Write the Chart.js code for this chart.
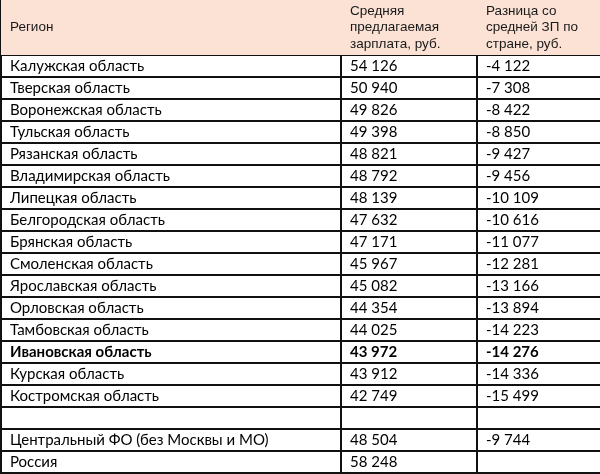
<!DOCTYPE html>
<html>
<head>
<meta charset="utf-8">
<script src="https://cdn.jsdelivr.net/npm/chart.js@4"></script>
<style>
  html, body { margin: 0; padding: 0; background: #fff; }
  #wrap { width: 600px; height: 474px; }
</style>
</head>
<body>
<div id="wrap"><canvas id="table" width="600" height="474"></canvas></div>
<script>
const headers = [
  ["Регион"],
  ["Средняя", "предлагаемая", "зарплата, руб."],
  ["Разница со", "средней ЗП по", "стране, руб."],
];

const regions = [
  "Калужская область", "Тверская область", "Воронежская область", "Тульская область",
  "Рязанская область", "Владимирская область", "Липецкая область", "Белгородская область",
  "Брянская область", "Смоленская область", "Ярославская область", "Орловская область",
  "Тамбовская область", "Ивановская область", "Курская область", "Костромская область",
  "", "Центральный ФО (без Москвы и МО)", "Россия",
];
const salaries = [
  "54 126", "50 940", "49 826", "49 398", "48 821", "48 792", "48 139", "47 632",
  "47 171", "45 967", "45 082", "44 354", "44 025", "43 972", "43 912", "42 749",
  "", "48 504", "58 248",
];
const diffs = [
  "-4 122", "-7 308", "-8 422", "-8 850", "-9 427", "-9 456", "-10 109", "-10 616",
  "-11 077", "-12 281", "-13 166", "-13 894", "-14 223", "-14 276", "-14 336", "-15 499",
  "", "-9 744", "",
];
const boldRow = "Ивановская область";

// column edges in x-scale units, header spans 2.5 row units
const colEdges = [1, 341, 477, 601];
const headerRows = 2.5;
const textPad = 9;

const columns = [regions, salaries, diffs];

const tablePlugin = {
  id: "tableCells",
  beforeDatasetsDraw(chart) {
    const { ctx, scales: { x, y } } = chart;
    // header fill
    ctx.save();
    ctx.fillStyle = "#fbe2d5";
    const top = y.getPixelForValue(-headerRows);
    const bot = y.getPixelForValue(0);
    const left = x.getPixelForValue(colEdges[0]);
    ctx.fillRect(left, top, x.getPixelForValue(colEdges[3]) - left, bot - top);
    ctx.restore();
  },
  afterDraw(chart) {
    const { ctx, scales: { x, y } } = chart;
    ctx.save();
    ctx.textBaseline = "middle";
    // header text
    ctx.fillStyle = "#1a1a1a";
    ctx.font = "13.5px 'Liberation Sans', Arial, sans-serif";
    headers.forEach((lines, c) => {
      const px = x.getPixelForValue(colEdges[c] + textPad);
      const mid = y.getPixelForValue(-headerRows / 2);
      const lh = 16.5;
      lines.forEach((line, k) => {
        ctx.fillText(line, px, mid + (k - (lines.length - 1) / 2) * lh);
      });
    });
    // body cells
    ctx.fillStyle = "#000";
    regions.forEach((name, i) => {
      const bold = name === boldRow;
      ctx.font = (bold ? "bold " : "") + "15px Lato, 'Noto Sans', sans-serif";
      columns.forEach((col, c) => {
        const px = x.getPixelForValue(colEdges[c] + textPad);
        const py = y.getPixelForValue(i + 0.5);
        ctx.fillText(col[i], px, py);
      });
    });
    ctx.restore();
  },
};

new Chart(document.getElementById("table"), {
  type: "scatter",
  data: { datasets: [{ data: [], pointRadius: 0 }] },
  options: {
    responsive: false,
    animation: false,
    events: [],
    layout: { padding: 0 },
    plugins: { legend: { display: false }, tooltip: { enabled: false } },
    scales: {
      x: {
        type: "linear",
        min: 0,
        max: 600,
        afterBuildTicks: (axis) => { axis.ticks = colEdges.map((v) => ({ value: v })); },
        ticks: { display: false },
        border: { display: false },
        grid: { color: "#111", lineWidth: 2, drawTicks: false },
      },
      y: {
        type: "linear",
        reverse: true,
        min: -headerRows,
        max: 19.05,
        afterBuildTicks: (axis) => {
          axis.ticks = regions.map((_, i) => ({ value: i })).concat([{ value: regions.length }]);
        },
        ticks: { display: false },
        border: { display: false },
        grid: { color: "#111", lineWidth: 2, drawTicks: false },
      },
    },
  },
  plugins: [tablePlugin],
});
</script>
</body>
</html>
